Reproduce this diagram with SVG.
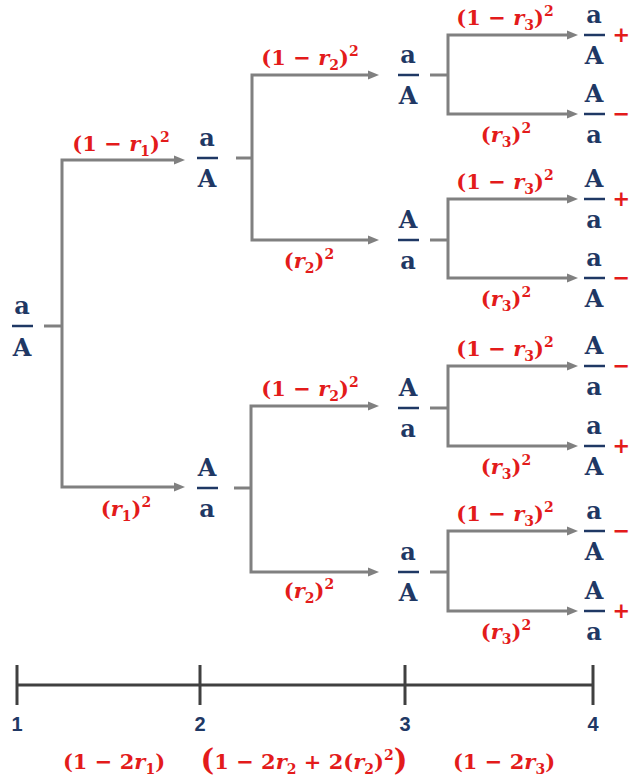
<svg xmlns="http://www.w3.org/2000/svg" width="632" height="781" viewBox="0 0 632 781">
<style>
.l{font-family:"DejaVu Serif","Liberation Serif",serif;font-weight:bold;font-size:24px;fill:#1F3864;text-anchor:middle}
.bar{stroke:#1F3864;stroke-width:2.5}
.c{stroke:#808080;stroke-width:3;fill:none}
.m{font-family:"DejaVu Serif","Liberation Serif",serif;font-weight:bold;font-size:21px;fill:#E31B1B;text-anchor:middle}
.s{font-size:14px}
.i{font-style:italic}
.sg{font-family:"DejaVu Sans","Liberation Sans",sans-serif;font-weight:bold;font-size:21px;fill:#E31B1B;text-anchor:end}
.n{font-family:"Liberation Sans","Open Sans",sans-serif;font-weight:bold;font-size:20px;fill:#1F3864;text-anchor:middle}
.t{stroke:#404040;stroke-width:3;fill:none}
</style>
<defs>
<marker id="ah" viewBox="0 0 12 10" refX="2" refY="5" markerWidth="12" markerHeight="10" markerUnits="userSpaceOnUse" orient="auto-start-reverse">
<path d="M0,0.5 L11,5 L0,9.5 z" fill="#808080"/>
</marker>
</defs>

<g id="connectors">
<path class="c" d="M44,326 H62"/>
<path class="c" d="M176,160 H62 V487 H176" marker-start="url(#ah)" marker-end="url(#ah)"/>
<path class="c" d="M236,158 H252"/>
<path class="c" d="M370,75 H252 V240 H370" marker-start="url(#ah)" marker-end="url(#ah)"/>
<path class="c" d="M234,488 H251"/>
<path class="c" d="M370,406 H251 V572 H370" marker-start="url(#ah)" marker-end="url(#ah)"/>
<path class="c" d="M430,75 H448"/>
<path class="c" d="M569,35 H448 V114 H569" marker-start="url(#ah)" marker-end="url(#ah)"/>
<path class="c" d="M430,240 H448"/>
<path class="c" d="M569,199 H448 V278 H569" marker-start="url(#ah)" marker-end="url(#ah)"/>
<path class="c" d="M430,408 H448"/>
<path class="c" d="M569,366 H448 V446 H569" marker-start="url(#ah)" marker-end="url(#ah)"/>
<path class="c" d="M430,572 H448"/>
<path class="c" d="M569,531 H448 V611 H569" marker-start="url(#ah)" marker-end="url(#ah)"/>
</g>

<g id="labels">
<text class="m" x="121" y="151">(1 − <tspan class="i">r</tspan><tspan class="s" dy="5">1</tspan><tspan dy="-5">)</tspan><tspan class="s" dy="-9">2</tspan></text>
<text class="m" x="126" y="516">(<tspan class="i">r</tspan><tspan class="s" dy="5">1</tspan><tspan dy="-5">)</tspan><tspan class="s" dy="-9">2</tspan></text>
<text class="m" x="310" y="65">(1 − <tspan class="i">r</tspan><tspan class="s" dy="5">2</tspan><tspan dy="-5">)</tspan><tspan class="s" dy="-9">2</tspan></text>
<text class="m" x="309" y="268">(<tspan class="i">r</tspan><tspan class="s" dy="5">2</tspan><tspan dy="-5">)</tspan><tspan class="s" dy="-9">2</tspan></text>
<text class="m" x="310" y="396">(1 − <tspan class="i">r</tspan><tspan class="s" dy="5">2</tspan><tspan dy="-5">)</tspan><tspan class="s" dy="-9">2</tspan></text>
<text class="m" x="309" y="598">(<tspan class="i">r</tspan><tspan class="s" dy="5">2</tspan><tspan dy="-5">)</tspan><tspan class="s" dy="-9">2</tspan></text>
<text class="m" x="505" y="25">(1 − <tspan class="i">r</tspan><tspan class="s" dy="5">3</tspan><tspan dy="-5">)</tspan><tspan class="s" dy="-9">2</tspan></text>
<text class="m" x="506" y="142">(<tspan class="i">r</tspan><tspan class="s" dy="5">3</tspan><tspan dy="-5">)</tspan><tspan class="s" dy="-9">2</tspan></text>
<text class="m" x="505" y="189">(1 − <tspan class="i">r</tspan><tspan class="s" dy="5">3</tspan><tspan dy="-5">)</tspan><tspan class="s" dy="-9">2</tspan></text>
<text class="m" x="506" y="306">(<tspan class="i">r</tspan><tspan class="s" dy="5">3</tspan><tspan dy="-5">)</tspan><tspan class="s" dy="-9">2</tspan></text>
<text class="m" x="505" y="356">(1 − <tspan class="i">r</tspan><tspan class="s" dy="5">3</tspan><tspan dy="-5">)</tspan><tspan class="s" dy="-9">2</tspan></text>
<text class="m" x="506" y="474">(<tspan class="i">r</tspan><tspan class="s" dy="5">3</tspan><tspan dy="-5">)</tspan><tspan class="s" dy="-9">2</tspan></text>
<text class="m" x="505" y="521">(1 − <tspan class="i">r</tspan><tspan class="s" dy="5">3</tspan><tspan dy="-5">)</tspan><tspan class="s" dy="-9">2</tspan></text>
<text class="m" x="506" y="639">(<tspan class="i">r</tspan><tspan class="s" dy="5">3</tspan><tspan dy="-5">)</tspan><tspan class="s" dy="-9">2</tspan></text>
</g>

<g id="n-root"><text class="l" x="22" y="314">a</text><line class="bar" x1="12" y1="326" x2="33" y2="326"/><text class="l" x="22" y="356">A</text></g>
<g id="n-2a"><text class="l" x="207" y="146">a</text><line class="bar" x1="197" y1="158" x2="218" y2="158"/><text class="l" x="207" y="187">A</text></g>
<g id="n-2b"><text class="l" x="207" y="476">A</text><line class="bar" x1="197" y1="488" x2="218" y2="488"/><text class="l" x="207" y="517">a</text></g>
<g id="n-3a"><text class="l" x="408" y="63">a</text><line class="bar" x1="398" y1="75" x2="419" y2="75"/><text class="l" x="408" y="104">A</text></g>
<g id="n-3b"><text class="l" x="408" y="228">A</text><line class="bar" x1="398" y1="240" x2="419" y2="240"/><text class="l" x="408" y="269">a</text></g>
<g id="n-3c"><text class="l" x="408" y="396">A</text><line class="bar" x1="398" y1="408" x2="419" y2="408"/><text class="l" x="408" y="437">a</text></g>
<g id="n-3d"><text class="l" x="408" y="560">a</text><line class="bar" x1="398" y1="572" x2="419" y2="572"/><text class="l" x="408" y="601">A</text></g>

<g id="leaf1"><text class="l" x="594" y="23">a</text><line class="bar" x1="584" y1="35" x2="605" y2="35"/><text class="l" x="594" y="64">A</text><text class="sg" x="630" y="42">+</text></g>
<g id="leaf2"><text class="l" x="594" y="102">A</text><line class="bar" x1="584" y1="114" x2="605" y2="114"/><text class="l" x="594" y="143">a</text><text class="sg" x="630" y="121">−</text></g>
<g id="leaf3"><text class="l" x="594" y="187">A</text><line class="bar" x1="584" y1="199" x2="605" y2="199"/><text class="l" x="594" y="228">a</text><text class="sg" x="630" y="206">+</text></g>
<g id="leaf4"><text class="l" x="594" y="266">a</text><line class="bar" x1="584" y1="278" x2="605" y2="278"/><text class="l" x="594" y="307">A</text><text class="sg" x="630" y="285">−</text></g>
<g id="leaf5"><text class="l" x="594" y="354">A</text><line class="bar" x1="584" y1="366" x2="605" y2="366"/><text class="l" x="594" y="395">a</text><text class="sg" x="630" y="373">−</text></g>
<g id="leaf6"><text class="l" x="594" y="434">a</text><line class="bar" x1="584" y1="446" x2="605" y2="446"/><text class="l" x="594" y="475">A</text><text class="sg" x="630" y="453">+</text></g>
<g id="leaf7"><text class="l" x="594" y="519">a</text><line class="bar" x1="584" y1="531" x2="605" y2="531"/><text class="l" x="594" y="560">A</text><text class="sg" x="630" y="538">−</text></g>
<g id="leaf8"><text class="l" x="594" y="599">A</text><line class="bar" x1="584" y1="611" x2="605" y2="611"/><text class="l" x="594" y="640">a</text><text class="sg" x="630" y="618">+</text></g>

<g id="timeline">
<path class="t" d="M17,685 H593 M17,665 V705 M200,665 V705 M405,665 V705 M593,665 V705"/>
<text class="n" x="17" y="731">1</text>
<text class="n" x="200" y="731">2</text>
<text class="n" x="405" y="731">3</text>
<text class="n" x="593" y="731">4</text>
<text class="m" x="114" y="769">(1 − 2<tspan class="i">r</tspan><tspan class="s" dy="5">1</tspan><tspan dy="-5">)</tspan></text>
<text class="m" x="304" y="769"><tspan font-size="29" dy="1">(</tspan><tspan dy="-1">1 − 2</tspan><tspan class="i">r</tspan><tspan class="s" dy="5">2</tspan><tspan dy="-5"> + 2(</tspan><tspan class="i">r</tspan><tspan class="s" dy="5">2</tspan><tspan dy="-5">)</tspan><tspan class="s" dy="-9">2</tspan><tspan font-size="29" dy="10">)</tspan></text>
<text class="m" x="504" y="769">(1 − 2<tspan class="i">r</tspan><tspan class="s" dy="5">3</tspan><tspan dy="-5">)</tspan></text>
</g>
</svg>
